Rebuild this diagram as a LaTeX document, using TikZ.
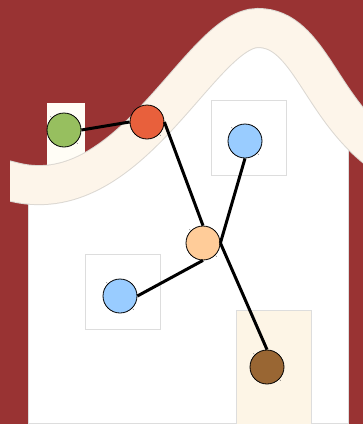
\documentclass[tikz,border=0pt]{standalone}
\definecolor{bgred}{HTML}{993333}
\definecolor{bandcream}{HTML}{FDF5EA}
\definecolor{bandgray}{HTML}{DCD8D2}
\definecolor{boxgray}{HTML}{DDDDDD}
\definecolor{wincream}{HTML}{FFFDF6}
\definecolor{doorcream}{HTML}{FDF5E6}
\definecolor{cgreen}{HTML}{97BF5F}
\definecolor{cred}{HTML}{E8603C}
\definecolor{cblue}{HTML}{99CCFF}
\definecolor{cpeach}{HTML}{FFCC99}
\definecolor{cbrown}{HTML}{996633}
\tikzset{
  vtx/.style={circle, draw=black, line width=0.8pt, minimum size=34pt, inner sep=0pt},
  link/.style={line width=3pt, black},
  frame/.style={draw=boxgray, line width=1pt},
  speck/.style={fill=black!70, circle, inner sep=0pt, minimum size=0.9pt}
}
\begin{document}
\begin{tikzpicture}[x=1pt, y=-1pt]
\useasboundingbox (0,0) rectangle (363,424);
\fill[bgred] (0,0) rectangle (363,424);
% house body
\begin{scope}
  \clip (28,0) rectangle (348,424);
  \fill[white] (-9.4,176.3) -- (10,181) .. controls (130,215) and (200,28) .. (258,28)
     .. controls (310,28) and (320,110) .. (385,155) -- (385,430) -- (-10,430) -- cycle;
\end{scope}
\draw[boxgray, line width=1pt] (28,200) -- (28,423.5) -- (348,423.5) -- (348,140);
% small window behind band
\fill[wincream] (47,103) rectangle (85,175);
% band
\begin{scope}
  \clip (10,-10) rectangle (400,430);
  \draw[bandgray, line width=40pt] (-9.4,176.3) -- (10,181) .. controls (130,215) and (200,28) .. (258,28)
     .. controls (310,28) and (320,110) .. (385,155);
  \draw[bandcream, line width=38pt] (-9.4,176.3) -- (10,181) .. controls (130,215) and (200,28) .. (258,28)
     .. controls (310,28) and (320,110) .. (385,155);
\end{scope}
% boxes
\filldraw[frame, fill=white] (211,100) rectangle (286,175);
\filldraw[frame, fill=white] (85,254) rectangle (160,329);
\filldraw[frame, fill=doorcream] (236,310) rectangle (311,426);
% nodes
\node[vtx, fill=cgreen] (g) at (64,130) {};
\node[vtx, fill=cred] (r) at (147,122) {};
\node[vtx, fill=cblue] (bt) at (245,141) {};
\node[vtx, fill=cpeach] (p) at (203,243) {};
\node[vtx, fill=cblue] (bl) at (120,296) {};
\node[vtx, fill=cbrown] (br) at (267,367) {};
% specks
\foreach \n in {g,r,bt,p,bl,br}{
  \node[speck] at ([shift={(-1pt,1pt)}]\n.north west) {};
  \node[speck] at ([shift={(1pt,-1pt)}]\n.south east) {};
}
% links
\draw[link] (g.east) -- (r.west);
\draw[link] (r.east) -- (p.north);
\draw[link] (bt.south) -- (p.east);
\draw[link] (p.south) -- (bl.east);
\draw[link] (p.east) -- (br.north);
\end{tikzpicture}
\end{document}
